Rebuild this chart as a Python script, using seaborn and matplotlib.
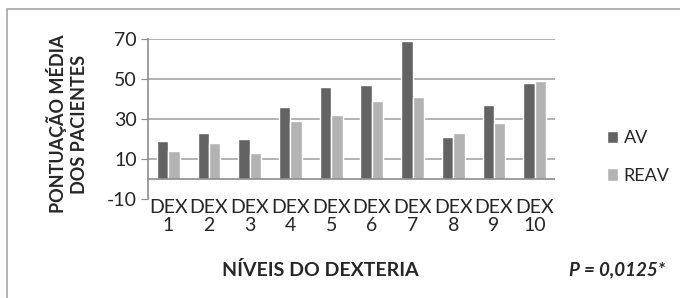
import numpy as np
import pandas as pd
import matplotlib.pyplot as plt
import seaborn as sns
from matplotlib.patches import Rectangle

categories = ['DEX\n1', 'DEX\n2', 'DEX\n3', 'DEX\n4', 'DEX\n5',
              'DEX\n6', 'DEX\n7', 'DEX\n8', 'DEX\n9', 'DEX\n10']
av = [19, 23, 20, 36, 46, 47, 69, 21, 37, 48]
reav = [14, 18, 13, 29, 32, 39, 41, 23, 28, 49]
yticks = [-10, 10, 30, 50, 70]

df = pd.DataFrame({
    'nivel': categories * 2,
    'valor': av + reav,
    'grupo': ['AV'] * len(av) + ['REAV'] * len(reav),
})

sns.set_style('white')
plt.rcParams['font.family'] = ['Lato', 'DejaVu Sans']
plt.rcParams['axes.unicode_minus'] = False

fig = plt.figure(figsize=(6.8, 2.98), dpi=100)
ax = fig.add_axes([148 / 680, 1 - 199 / 298, (555 - 148) / 680, 160 / 298])

sns.barplot(data=df, x='nivel', y='valor', hue='grupo', order=categories,
            palette={'AV': '#636363', 'REAV': '#b3b3b3'},
            width=0.56, gap=0, saturation=1, ax=ax, zorder=3)

ax.set_ylim(-10, 70)
ax.set_xlim(-0.5, len(categories) - 0.5)
ax.set_yticks(yticks)
ax.tick_params(axis='y', labelsize=14, length=5, color='#8c8c8c', direction='out', left=True, pad=3)
ax.tick_params(axis='x', labelsize=14, length=0, pad=0)
for lab in ax.get_xticklabels():
    lab.set_linespacing(1.1)
for y in [10, 30, 50, 70]:
    ax.axhline(y, color='#a6a6a6', lw=1.2, zorder=1)
ax.axhline(0, color='#8c8c8c', lw=1.2, zorder=4)
for s in ['top', 'right', 'bottom']:
    ax.spines[s].set_visible(False)
ax.spines['left'].set_color('#8c8c8c')
ax.spines['left'].set_linewidth(1.2)

ax.set_xlabel('')
ax.set_ylabel('')
fig.text(67 / 680, 1 - 124 / 298, 'PONTUAÇÃO MÉDIA\nDOS PACIENTES', rotation=90,
         ha='center', va='center', fontsize=13, fontweight='bold', linespacing=1.3)
fig.text(320 / 680, 1 - 270 / 298, 'NÍVEIS DO DEXTERIA', ha='center', va='center',
         fontsize=14, fontweight='bold')
fig.text(617 / 680, 1 - 270 / 298, 'P = 0,0125*', ha='center', va='center',
         fontsize=13.5, fontweight='bold', fontstyle='italic')

ax.legend(loc='center left', bbox_to_anchor=(591 / 680, 1 - 157 / 298),
          bbox_transform=fig.transFigure, frameon=False, fontsize=13,
          handlelength=0.6, handleheight=0.7, handletextpad=0.3, labelspacing=1.2)

fig.patches.append(Rectangle((7 / 680, -0.1), 1.2, 1 - 9 / 298 + 0.1, transform=fig.transFigure,
                             fill=False, edgecolor='#a6a6a6', lw=1.2))

fig.savefig('out.png', dpi=100)
